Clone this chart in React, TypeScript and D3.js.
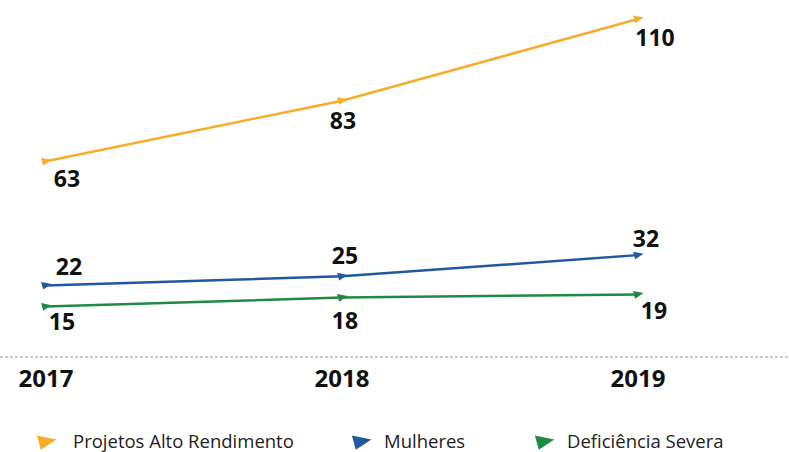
import React, { useEffect, useRef } from "react"
import * as d3 from "d3"

// ---------- Data ----------
const years = ["2017", "2018", "2019"]
const altoRendimento = [63, 83, 110]
const mulheres = [22, 25, 32]
const deficiencia = [15, 18, 19]

const seriesNames = ["Projetos Alto Rendimento", "Mulheres", "Deficiência Severa"]
const seriesColors = ["#f5ad2b", "#22599e", "#1f8a45"]

const W = 789
const H = 452

// label nudges (dx, dy) per series per point
const labelOffsets = [
    [[21, 26], [1, 28], [17, 27]],
    [[23, -10], [3, -12], [8, -8]],
    [[16, 23], [3, 31], [16, 25]],
]

// little arrowhead-ish marker
const markerPath = "M -7 -5 L 8 -2 L -4 6 Z"

const App: React.FC = () => {
    const svgRef = useRef<SVGSVGElement>(null)

    useEffect(() => {
        if (!svgRef.current) return
        const svg = d3.select(svgRef.current)
        svg.selectAll("*").remove()

        const x = d3.scalePoint<string>().domain(years).range([46, 638])
        const y = d3.scaleLinear().domain([0, 110]).range([352, 19])

        const all = [altoRendimento, mulheres, deficiencia]

        // dashed baseline
        svg.append("line")
            .attr("x1", 0).attr("x2", W)
            .attr("y1", 357).attr("y2", 357)
            .attr("stroke", "#9a9a9a")
            .attr("stroke-width", 1.2)
            .attr("stroke-dasharray", "3,2")

        // year labels
        svg.selectAll(".year")
            .data(years)
            .enter()
            .append("text")
            .attr("x", d => (x(d) ?? 0) + 0)
            .attr("y", 387)
            .attr("text-anchor", "middle")
            .attr("font-family", "'Open Sans', sans-serif")
            .attr("font-weight", 700)
            .attr("font-size", 24)
            .attr("fill", "#111")
            .text(d => d)

        const line = d3.line<number>()
            .x((_, i) => x(years[i]) ?? 0)
            .y(d => y(d))

        all.forEach((vals, si) => {
            const color = seriesColors[si]
            svg.append("path")
                .datum(vals)
                .attr("d", line)
                .attr("fill", "none")
                .attr("stroke", color)
                .attr("stroke-width", 2.5)

            svg.selectAll(`.mk${si}`)
                .data(vals)
                .enter()
                .append("path")
                .attr("d", markerPath)
                .attr("transform", (d, i) => `translate(${x(years[i])},${y(d)}) scale(0.7)`)
                .attr("fill", color)

            svg.selectAll(`.lb${si}`)
                .data(vals)
                .enter()
                .append("text")
                .attr("x", (_, i) => (x(years[i]) ?? 0) + labelOffsets[si][i][0])
                .attr("y", (d, i) => y(d) + labelOffsets[si][i][1])
                .attr("text-anchor", "middle")
                .attr("font-family", "'Open Sans', sans-serif")
                .attr("font-weight", 700)
                .attr("font-size", 23)
                .attr("fill", "#111")
                .text(d => d)
        })

        // legend
        const legendX = [37, 352, 535]
        const legendTextX = [73, 384, 567]
        seriesNames.forEach((name, i) => {
            svg.append("path")
                .attr("d", markerPath)
                .attr("transform", `translate(${legendX[i] + 9},442) scale(1.3)`)
                .attr("fill", seriesColors[i])
            svg.append("text")
                .attr("x", legendTextX[i])
                .attr("y", 448)
                .attr("font-family", "'Open Sans', sans-serif")
                .attr("font-size", 18.5)
                .attr("fill", "#222")
                .text(name)
        })
    }, [])

    return (
        <svg
            ref={svgRef}
            width={W}
            height={H}
            viewBox={`0 0 ${W} ${H}`}
            style={{ position: "absolute", left: 0, top: 0, background: "#fff" }}
        />
    )
}

export default App
